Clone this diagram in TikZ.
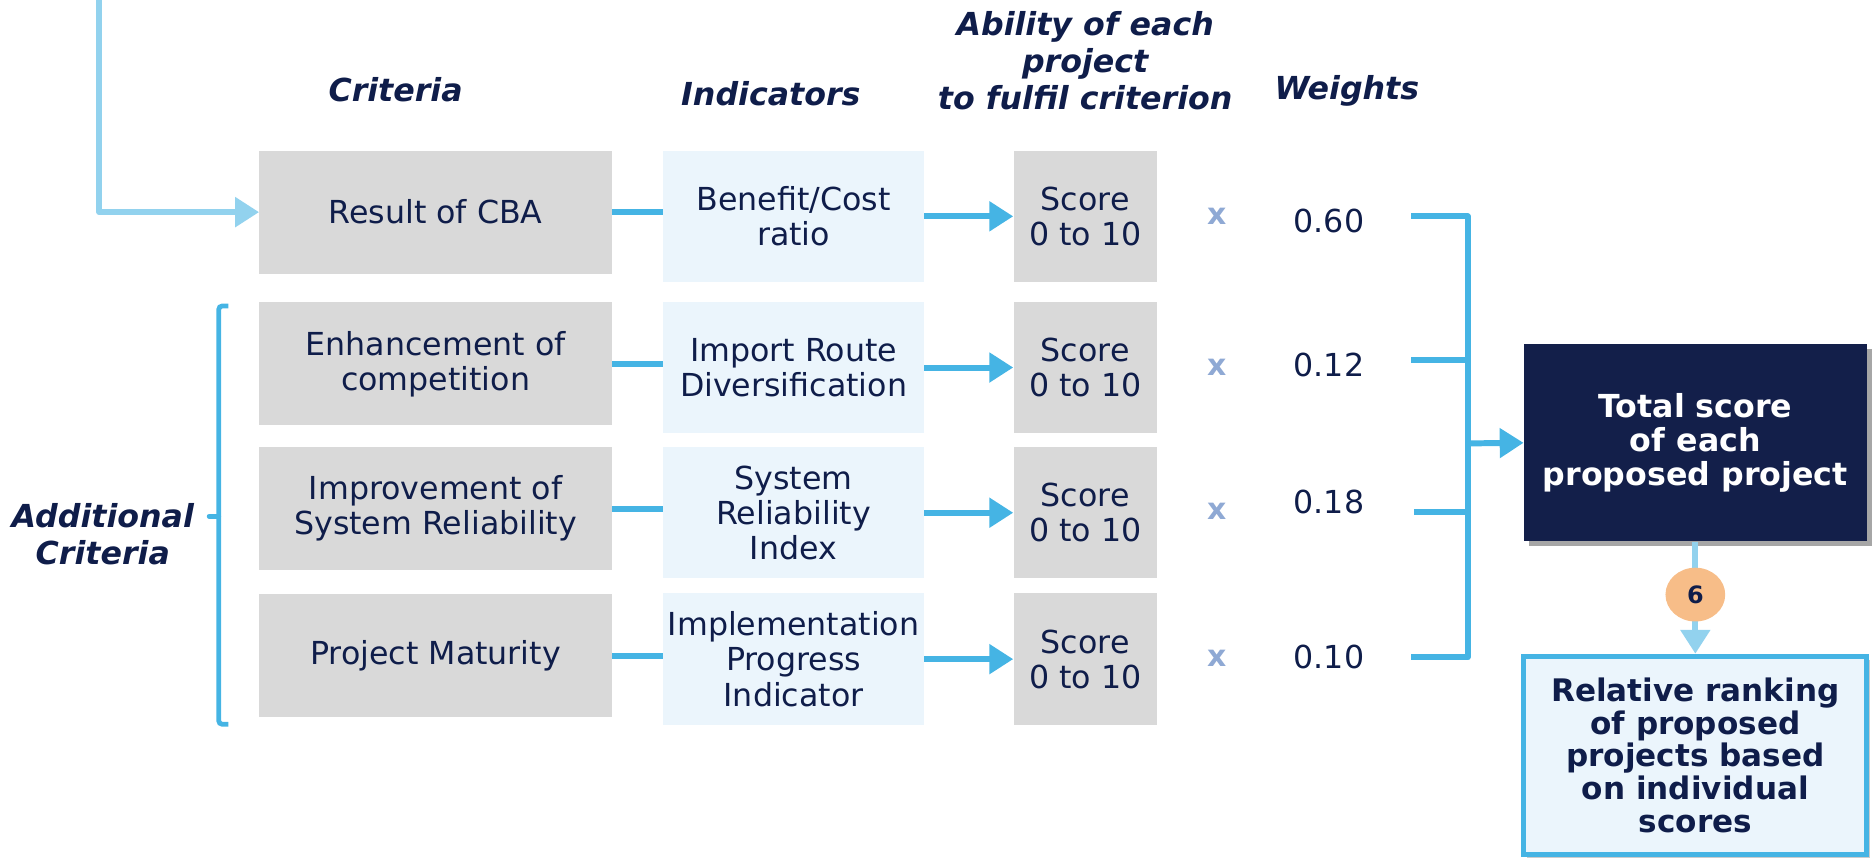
\documentclass[tikz,border=0pt]{standalone}
\usepackage{fontspec}
\setmainfont{DejaVu Sans}
\usetikzlibrary{arrows.meta,shadows,shapes.geometric}
\definecolor{navy}{HTML}{0F1D4A}
\definecolor{boxnavy}{HTML}{131F4A}
\definecolor{greybox}{HTML}{D9D9D9}
\definecolor{paleblue}{HTML}{EBF5FC}
\definecolor{linkblue}{HTML}{45B4E4}
\definecolor{lightlink}{HTML}{92D2EE}
\definecolor{xcol}{HTML}{8FA9D4}
\definecolor{peach}{HTML}{F7BD88}
\tikzset{
  base/.style={font=\fontsize{26.5pt}{29.5pt}\selectfont, text=navy, align=center, inner sep=0pt},
  critbox/.style={base, fill=greybox, minimum width=295pt, minimum height=103pt},
  indbox/.style={base, fill=paleblue, minimum width=218pt, minimum height=110pt},
  scorebox/.style={base, fill=greybox, minimum width=120pt, minimum height=110pt},
  header/.style={base, font=\fontsize{26.5pt}{31pt}\selectfont\bfseries\itshape},
  weight/.style={base},
  timesign/.style={base, font=\fontsize{25pt}{28pt}\selectfont\bfseries, text=xcol},
  link/.style={draw=linkblue, line width=5pt},
  linkarrow/.style={link, -{Triangle[length=20pt,width=24pt]}},
  lightarrow/.style={draw=lightlink, line width=5pt, line join=round, -{Triangle[length=20pt,width=24pt]}},
  totalbox/.style={base, font=\fontsize{26.5pt}{28.5pt}\selectfont\bfseries, text=white, fill=boxnavy,
    minimum width=287pt, minimum height=165pt,
    drop shadow={shadow xshift=4pt, shadow yshift=-4pt, fill=black, opacity=0.35}},
  rankbox/.style={base, font=\fontsize{26pt}{27.5pt}\selectfont\bfseries, fill=paleblue, draw=linkblue, line width=4pt,
    minimum width=287pt, minimum height=166pt,
    drop shadow={shadow xshift=3pt, shadow yshift=-3pt, fill=black, opacity=0.2}},
  stepnum/.style={ellipse, fill=peach, minimum width=50pt, minimum height=45pt, inner sep=0pt,
    font=\fontsize{20pt}{22pt}\selectfont\bfseries, text=navy}
}
\begin{document}
\begin{tikzpicture}[x=1pt, y=-1pt]
\useasboundingbox (0,0) rectangle (1568,718);

% headers
\node[header] (crith) at (331,75) {Criteria};
\node[header] (indh) at (645,78) {Indicators};
\node[header] (abh) at (908,51) {Ability of each\\project\\to fulfil criterion};
\node[header] (wh) at (1127,76) {Weights};
\node[header] (addh) at (86,447) {Additional\\Criteria};

% criteria
\node[critbox] (c1) at (364.5,177.5) {Result of CBA};
\node[critbox] (c2) at (364.5,304.5) {Enhancement of\\competition};
\node[critbox] (c3) at (364.5,425.5) {Improvement of\\System Reliability};
\node[critbox] (c4) at (364.5,548.5) {Project Maturity};

% indicators
\node[indbox] (i1) at (664,181) {Benefit/Cost\\ratio};
\node[indbox] (i2) at (664,307.5) {Import Route\\Diversification};
\node[indbox] (i3) at (664,429) {System\\Reliability\\Index};
\node[indbox] (i4) at (664,551.5) {Implementation\\Progress\\Indicator};

% scores
\node[scorebox] (s1) at (908,181) {Score\\0 to 10};
\node[scorebox] (s2) at (908,307.5) {Score\\0 to 10};
\node[scorebox] (s3) at (908,429) {Score\\0 to 10};
\node[scorebox] (s4) at (908,551.5) {Score\\0 to 10};

% times signs
\node[timesign] (x1) at (1018,181) {x};
\node[timesign] (x2) at (1018,307) {x};
\node[timesign] (x3) at (1018,428) {x};
\node[timesign] (x4) at (1018,551) {x};

% weights
\node[weight] (w1) at (1112,185) {0.60};
\node[weight] (w2) at (1112,305) {0.12};
\node[weight] (w3) at (1112,420) {0.18};
\node[weight] (w4) at (1112,550) {0.10};

% total and ranking
\node[totalbox] (total) at (1418.5,370.5) {Total score\\of each\\proposed project};
\node[rankbox] (rank) at (1418.5,632) {Relative ranking\\of proposed\\projects based\\on individual\\scores};

% incoming line
\coordinate (src) at (83,-6);
\draw[lightarrow] (src) |- (c1.west);

% criteria -> indicators
\foreach \k in {1,2,3,4}{
  \draw[link] (c\k.east) -- (c\k.east -| i\k.west);
  \draw[linkarrow] (i\k.east) -- (s\k.west);
}

% weights -> bar
\coordinate (wc1) at (1181,181);
\coordinate (wc2) at (1181,301);
\coordinate (wc3) at (1183,428);
\coordinate (wc4) at (1181,550);
\coordinate (bartop) at (1228,181);
\coordinate (barbot) at (1228,550);
\coordinate (barmid) at (1228,371);
\draw[link, line join=round] (wc1) -- (bartop) -- (barbot) -- (wc4);
\draw[link] (wc2) -- (wc2 -| bartop);
\draw[link] (wc3) -- (wc3 -| bartop);
\draw[linkarrow] (barmid) -- (total.west);

% total -> ranking
\draw[lightarrow] (total.south) -- (rank.north);
\node[stepnum] (six) at (1418.5,497.5) {6};

% brace for additional criteria
\draw[linkblue, line width=4pt, rounded corners=3pt] (191,256) -- (183,256) -- (183,606) -- (191,606);
\draw[linkblue, line width=4pt, line cap=round] (183,432) -- (175,432);
\end{tikzpicture}
\end{document}
